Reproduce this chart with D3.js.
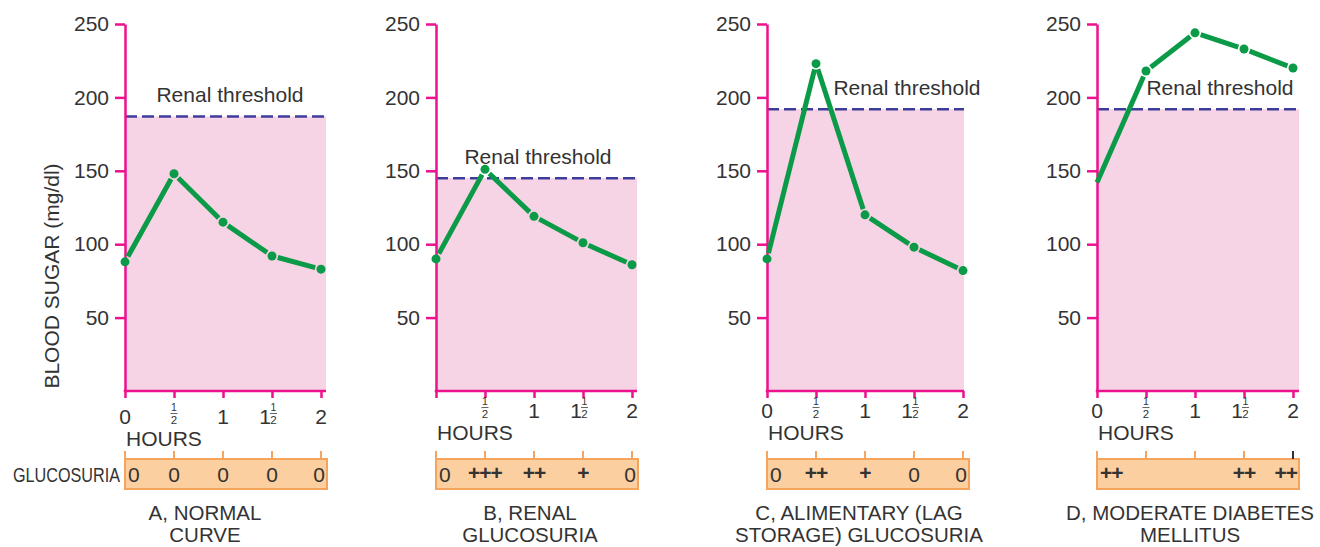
<!DOCTYPE html>
<html><head><meta charset="utf-8">
<script src="https://cdn.jsdelivr.net/npm/d3@7/dist/d3.min.js"></script>
<style>
body{margin:0;background:#fff}
svg{display:block}
text{font-family:"Liberation Sans",Arial,sans-serif;fill:#333}
</style>
</head><body>
<svg id="chart" width="1320" height="547"></svg>
<script>
// ---------- DATA ----------
const hours = [0, 0.5, 1, 1.5, 2];
const hourLabels = ["0", "½", "1", "1½", "2"];
const yTickValues = [50, 100, 150, 200, 250];
const panelIds = ["A", "B", "C", "D"];
const sugarA = [88, 148, 115, 92, 83];
const sugarB = [90, 151, 119, 101, 86];
const sugarC = [90, 223, 120, 98, 82];
const sugarD = [142, 218, 244, 233, 220];
const renalThreshold = [187, 145, 192, 192];
const glucosuriaA = ["0", "0", "0", "0", "0"];
const glucosuriaB = ["0", "+++", "++", "+", "0"];
const glucosuriaC = ["0", "++", "+", "0", "0"];
const glucosuriaD = ["++", "", "", "++", "++"];
const titleLine1 = ["A, NORMAL", "B, RENAL", "C, ALIMENTARY (LAG", "D, MODERATE DIABETES"];
const titleLine2 = ["CURVE", "GLUCOSURIA", "STORAGE) GLUCOSURIA", "MELLITUS"];
const yAxisTitle = "BLOOD SUGAR (mg/dl)";
const thresholdLabel = "Renal threshold";
const hoursLabel = "HOURS";
const glucosuriaLabel = "GLUCOSURIA";

const sugar = [sugarA, sugarB, sugarC, sugarD];
const gluco = [glucosuriaA, glucosuriaB, glucosuriaC, glucosuriaD];

// ---------- LAYOUT ----------
const axisX = [125, 436, 767, 1097];
const plotW = 196;
const pinkExtra = [5, 5, 1, 6];
const tickLabelBase = [424, 418, 418, 418];
const hoursBase = [446, 440, 440, 440];
const titleCX = [205, 530, 859, 1190];
const thrLabelDX = [105, 102, 140, 123];
const showZeroLabel = [true, false, true, true];
const firstDot = [true, true, true, false];

const C = {
  axis: "#ec118c", pink: "#f7d4e5", dash: "#3c3c9c", green: "#0b9a47",
  boxFill: "#fbcf9f", boxStroke: "#f6a35d", text: "#333"
};

const svg = d3.select("#chart");
const y = d3.scaleLinear().domain([0, 250]).range([391, 24]);

function fraction(g, cx, base) {
  g.append("text").attr("x", cx).attr("y", base - 13).attr("text-anchor", "middle")
    .style("font-size", "10.5px").text("1");
  g.append("line").attr("x1", cx - 3.5).attr("x2", cx + 3.5).attr("y1", base - 10.5).attr("y2", base - 10.5)
    .attr("stroke", "#555").attr("stroke-width", 0.9);
  g.append("text").attr("x", cx).attr("y", base).attr("text-anchor", "middle")
    .style("font-size", "11.5px").text("2");
}

panelIds.forEach((id, p) => {
  const x0 = axisX[p];
  const x = d3.scaleLinear().domain([0, 2]).range([x0, x0 + plotW]);
  const g = svg.append("g").attr("class", "panel-" + id);
  const right = x(2) + pinkExtra[p];
  const thrY = y(renalThreshold[p]);

  // pink area below threshold
  g.append("rect").attr("x", x0).attr("y", thrY).attr("width", right - x0).attr("height", y(0) - thrY)
    .attr("fill", C.pink);
  // threshold dashed line
  g.append("line").attr("x1", x0).attr("x2", right).attr("y1", thrY).attr("y2", thrY)
    .attr("stroke", C.dash).attr("stroke-width", 2.5).attr("stroke-dasharray", "12,5");
  g.append("text").attr("x", x0 + thrLabelDX[p]).attr("y", thrY - 14).attr("text-anchor", "middle")
    .style("font-size", "21px").text(thresholdLabel);

  // y axis
  const ya = g.append("g").attr("transform", `translate(${x0},0)`)
    .call(d3.axisLeft(y).tickValues(yTickValues).tickSize(10).tickSizeOuter(0).tickPadding(6));
  ya.select(".domain").attr("stroke", C.axis).attr("stroke-width", 2.5);
  ya.selectAll(".tick line").attr("stroke", C.axis).attr("stroke-width", 2.5);
  ya.selectAll(".tick text").style("font-size", "21px").style("font-family", '"Liberation Sans",Arial,sans-serif').attr("fill", C.text);

  // x axis
  const xa = g.append("g").attr("transform", `translate(0,${y(0)})`)
    .call(d3.axisBottom(x).tickValues(hours).tickSize(7).tickSizeOuter(0).tickFormat(""));
  xa.select(".domain").remove();
  xa.selectAll(".tick line").attr("stroke", C.axis).attr("stroke-width", 2.5);
  g.append("line").attr("x1", x0 - 1.25).attr("x2", right).attr("y1", y(0)).attr("y2", y(0))
    .attr("stroke", C.axis).attr("stroke-width", 2.5);

  // x tick labels
  hours.forEach((h, i) => {
    const lab = hourLabels[i];
    const cx = x(h), base = tickLabelBase[p];
    if (lab === "0" && !showZeroLabel[p]) return;
    if (lab === "½") { fraction(g, cx, base); }
    else if (lab === "1½") {
      g.append("text").attr("x", cx - 1).attr("y", base).attr("text-anchor", "end").style("font-size", "21px").text("1");
      fraction(g, cx + 1.5, base);
    } else {
      g.append("text").attr("x", cx).attr("y", base).attr("text-anchor", "middle").style("font-size", "21px").text(lab);
    }
  });
  g.append("text").attr("x", x0 + 1).attr("y", hoursBase[p]).style("font-size", "21px").text(hoursLabel);

  // green curve with small gaps near the dots
  const pts = hours.map((h, i) => [x(h), y(sugar[p][i])]);
  const gap = 6;
  for (let i = 0; i < pts.length - 1; i++) {
    const [ax, ay] = pts[i], [bx, by] = pts[i + 1];
    const len = Math.hypot(bx - ax, by - ay), ux = (bx - ax) / len, uy = (by - ay) / len;
    const s = (i === 0 && !firstDot[p]) ? 0 : gap;
    g.append("line")
      .attr("x1", ax + ux * s).attr("y1", ay + uy * s)
      .attr("x2", bx - ux * gap).attr("y2", by - uy * gap)
      .attr("stroke", C.green).attr("stroke-width", 5);
  }
  g.selectAll("circle.dot").data(pts.filter((d, i) => i > 0 || firstDot[p])).join("circle")
    .attr("class", "dot").attr("cx", d => d[0]).attr("cy", d => d[1]).attr("r", 4.5).attr("fill", C.green);

  // glucosuria strip
  const boxTop = 459, boxH = 30;
  g.append("rect").attr("x", x0).attr("y", boxTop).attr("width", x(2) + 6 - x0).attr("height", boxH)
    .attr("fill", C.boxFill).attr("stroke", C.boxStroke).attr("stroke-width", 2);
  hours.forEach((h, i) => {
    g.append("line").attr("x1", x(h)).attr("x2", x(h)).attr("y1", boxTop - 8).attr("y2", boxTop)
      .attr("stroke", (p === 3 && i === 4) ? "#333" : C.boxStroke).attr("stroke-width", 2);
    const v = gluco[p][i];
    if (!v) return;
    let tx = x(h), anchor = "middle";
    if (i === 0) { tx = x0 + 3; anchor = "start"; }
    if (i === hours.length - 1) { tx = x(h) + 4; anchor = "end"; }
    const t = g.append("text").attr("x", tx).attr("y", boxTop + 23).attr("text-anchor", anchor)
      .style("font-size", "21px").text(v);
    if (v.includes("+")) t.style("font-weight", "bold").style("letter-spacing", "-1px").attr("y", boxTop + 21);
  });
  if (p === 0) {
    g.append("text").attr("transform", `translate(${x0 - 5},${boxTop + 23}) scale(0.81,1)`)
      .attr("text-anchor", "end").style("font-size", "20px").text(glucosuriaLabel);
    g.append("text").attr("transform", "translate(59,276) rotate(-90)").attr("text-anchor", "middle")
      .style("font-size", "21px").text(yAxisTitle);
  }

  // panel titles
  g.append("text").attr("x", titleCX[p]).attr("y", 520).attr("text-anchor", "middle").style("font-size", "20.5px").text(titleLine1[p]);
  g.append("text").attr("x", titleCX[p]).attr("y", 542).attr("text-anchor", "middle").style("font-size", "20.5px").text(titleLine2[p]);
});
</script>
</body></html>
